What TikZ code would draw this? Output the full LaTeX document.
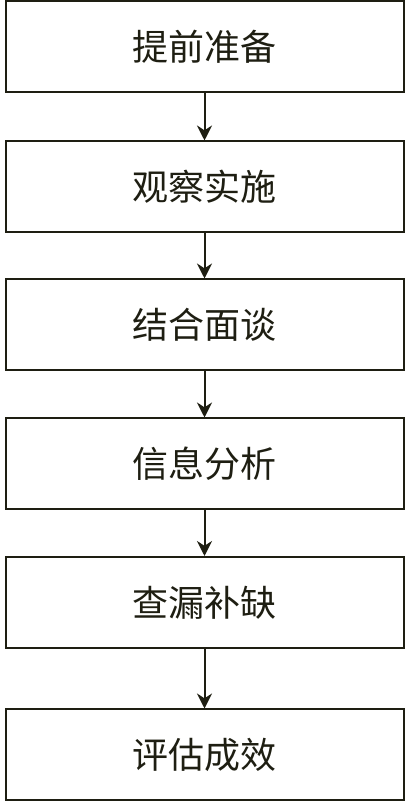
\documentclass[tikz,border=0pt]{standalone}
\usepackage{fontspec}
\newfontfamily\cjk{Noto Sans CJK SC}
\usetikzlibrary{arrows.meta}
\definecolor{ink}{RGB}{30,30,18}
\begin{document}
\begin{tikzpicture}[x=1pt,y=1pt,
  stepbox/.style={draw=ink,line width=2pt,minimum width=398pt,minimum height=91pt,inner sep=0pt,font=\cjk\fontsize{36}{42}\selectfont,text=ink},
  flow/.style={draw=ink,line width=2pt,-{Stealth[length=15pt,width=15pt]}}]
\useasboundingbox (0,0) rectangle (409,804);
\node[stepbox] (a) at (204.5,804-47) {提前准备};
\node[stepbox] (b) at (204.5,804-187) {观察实施};
\node[stepbox] (c) at (204.5,804-325) {结合面谈};
\node[stepbox] (d) at (204.5,804-464) {信息分析};
\node[stepbox] (e) at (204.5,804-602.5) {查漏补缺};
\node[stepbox] (f) at (204.5,804-755) {评估成效};
\draw[flow] (a) -- (b);
\draw[flow] (b) -- (c);
\draw[flow] (c) -- (d);
\draw[flow] (d) -- (e);
\draw[flow] (e) -- (f);
\end{tikzpicture}
\end{document}
